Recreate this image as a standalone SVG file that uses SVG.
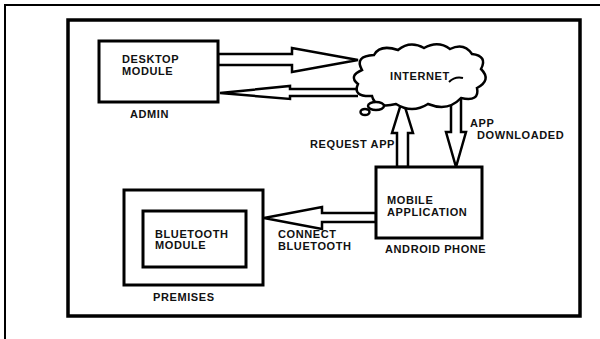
<svg xmlns="http://www.w3.org/2000/svg" width="600" height="339" viewBox="0 0 600 339">
<style>
.t{font-family:"Liberation Sans",Arial,sans-serif;font-weight:bold;font-size:11px;fill:#111;letter-spacing:0.6px}
.box{fill:#fff;stroke:#000;stroke-width:3}
.arr{fill:#fff;stroke:#000;stroke-width:2.5;stroke-linejoin:miter}
</style>
<rect width="600" height="339" fill="#fff"/>
<g id="frame">
<rect x="5" y="5" width="620" height="360" fill="none" stroke="#000" stroke-width="2"/>
<rect x="68" y="20" width="512" height="296" fill="none" stroke="#000" stroke-width="3.5"/>
</g>
<g id="connectors">
<polygon class="arr" points="218,54 292,54 292,48 358,60 292,72 292,65 218,65"/>
<polyline class="arr" points="358,89 290,89 290,86 220,93 290,99 290,96 358,96"/>
<polygon class="arr" points="397,167 397,133 392,133 402.5,99 413,133 408,133 408,167"/>
<polygon class="arr" points="451,96 451,132 446,132 456,167 466,132 461,132 461,96"/>
<polygon class="arr" points="376,213 322,213 322,207 264,218 322,229 322,222 376,222"/>
<g id="label-request"><text class="t" x="310" y="148">REQUEST APP</text></g>
<g id="label-download"><text class="t" x="470" y="127">APP</text><text class="t" x="477" y="139">DOWNLOADED</text></g>
<g id="label-connect"><text class="t" x="278" y="238">CONNECT</text><text class="t" x="278" y="250">BLUETOOTH</text></g>
</g>
<g id="desktop">
<rect class="box" x="99" y="41" width="119" height="61"/>
<text class="t" x="122" y="63">DESKTOP</text>
<text class="t" x="122" y="75">MODULE</text>
<text class="t" x="130" y="118">ADMIN</text>
</g>
<g id="internet">
<path d="M362,70 Q354,56 374,55 Q380,44 398,50 Q410,40 424,48 Q438,40 450,49 Q464,42 472,54 Q488,56 481,69 Q492,80 477,88 Q480,102 461,98 Q448,112 428,104 Q412,114 396,104 Q375,109 372,96 Q352,97 358,84 Q348,76 362,70 Z" fill="#fff" stroke="#000" stroke-width="2.5"/>
<path d="M449,82 Q455,76 463,78" fill="none" stroke="#000" stroke-width="2"/>
<ellipse cx="376" cy="106" rx="8" ry="4" fill="#fff" stroke="#000" stroke-width="2.5"/>
<ellipse cx="365" cy="112" rx="4.5" ry="3" fill="#fff" stroke="#000" stroke-width="2.5"/>
<text class="t" x="390" y="80">INTERNET</text>
</g>
<g id="mobile">
<rect class="box" x="376" y="167" width="106" height="71"/>
<text class="t" x="387" y="204">MOBILE</text>
<text class="t" x="387" y="216">APPLICATION</text>
<text class="t" x="385" y="253">ANDROID PHONE</text>
</g>
<g id="premises">
<rect class="box" x="124" y="190" width="139" height="95"/>
<text class="t" x="153" y="301">PREMISES</text>
</g>
<g id="bluetooth">
<rect class="box" x="143" y="211" width="103" height="56" stroke-width="4"/>
<text class="t" x="155" y="238">BLUETOOTH</text>
<text class="t" x="155" y="249">MODULE</text>
</g>
</svg>
